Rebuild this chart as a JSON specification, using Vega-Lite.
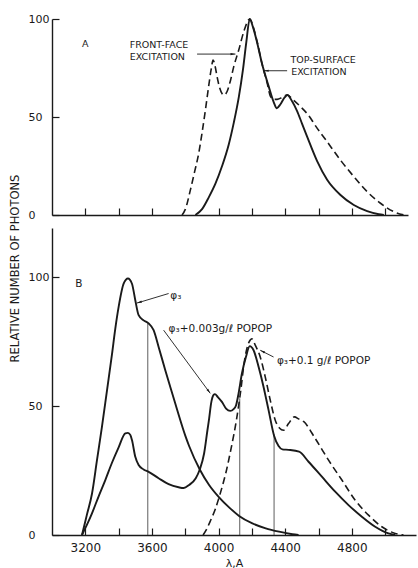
{
  "$schema": "https://vega.github.io/schema/vega-lite/v6.json",
  "background": "white",
  "padding": {"left": 8, "top": 13, "right": 2, "bottom": 0},
  "bounds": "flush",
  "spacing": 13,
  "config": {
    "view": {"stroke": null},
    "font": "DejaVu Sans",
    "axis": {
      "grid": false,
      "domainColor": "#1a1a1a",
      "domainWidth": 1.4,
      "tickColor": "#1a1a1a",
      "tickWidth": 1.2,
      "tickSize": -7,
      "labelColor": "#1a1a1a",
      "labelFont": "DejaVu Sans",
      "labelFontSize": 11,
      "titleColor": "#1a1a1a",
      "titleFont": "DejaVu Sans",
      "titleFontWeight": "normal"
    },
    "text": {"font": "DejaVu Sans", "fontSize": 9.5, "color": "#1a1a1a", "align": "left", "baseline": "alphabetic"}
  },
  "datasets": {
    "curvesA": [
      {"s": "top", "lam": 3860, "val": 0}, {"s": "top", "lam": 3900, "val": 3}, {"s": "top", "lam": 3940, "val": 9},
      {"s": "top", "lam": 3980, "val": 16}, {"s": "top", "lam": 4020, "val": 25}, {"s": "top", "lam": 4060, "val": 36},
      {"s": "top", "lam": 4090, "val": 47}, {"s": "top", "lam": 4120, "val": 60}, {"s": "top", "lam": 4145, "val": 74},
      {"s": "top", "lam": 4165, "val": 88}, {"s": "top", "lam": 4186, "val": 100}, {"s": "top", "lam": 4205, "val": 96},
      {"s": "top", "lam": 4230, "val": 88}, {"s": "top", "lam": 4260, "val": 77}, {"s": "top", "lam": 4300, "val": 65.5},
      {"s": "top", "lam": 4330, "val": 57.5}, {"s": "top", "lam": 4348, "val": 54.5}, {"s": "top", "lam": 4370, "val": 56.5},
      {"s": "top", "lam": 4395, "val": 60}, {"s": "top", "lam": 4412, "val": 61.2}, {"s": "top", "lam": 4440, "val": 58},
      {"s": "top", "lam": 4470, "val": 53}, {"s": "top", "lam": 4500, "val": 46.5}, {"s": "top", "lam": 4530, "val": 40},
      {"s": "top", "lam": 4590, "val": 27.5}, {"s": "top", "lam": 4650, "val": 18}, {"s": "top", "lam": 4730, "val": 10.2},
      {"s": "top", "lam": 4810, "val": 5.1}, {"s": "top", "lam": 4890, "val": 2}, {"s": "top", "lam": 4960, "val": 0.4},
      {"s": "top", "lam": 4990, "val": 0},
      {"s": "front", "lam": 3780, "val": 0}, {"s": "front", "lam": 3800, "val": 3}, {"s": "front", "lam": 3830, "val": 12.8},
      {"s": "front", "lam": 3855, "val": 22}, {"s": "front", "lam": 3880, "val": 31.5}, {"s": "front", "lam": 3900, "val": 42},
      {"s": "front", "lam": 3920, "val": 53.6}, {"s": "front", "lam": 3940, "val": 66}, {"s": "front", "lam": 3955, "val": 74.5},
      {"s": "front", "lam": 3966, "val": 79}, {"s": "front", "lam": 3978, "val": 76}, {"s": "front", "lam": 3990, "val": 70.6},
      {"s": "front", "lam": 4005, "val": 65}, {"s": "front", "lam": 4030, "val": 61.2}, {"s": "front", "lam": 4050, "val": 63},
      {"s": "front", "lam": 4070, "val": 68.5}, {"s": "front", "lam": 4090, "val": 75.7}, {"s": "front", "lam": 4120, "val": 84.2},
      {"s": "front", "lam": 4150, "val": 93.5}, {"s": "front", "lam": 4186, "val": 100}, {"s": "front", "lam": 4210, "val": 95},
      {"s": "front", "lam": 4230, "val": 88.5}, {"s": "front", "lam": 4260, "val": 77}, {"s": "front", "lam": 4290, "val": 67.5},
      {"s": "front", "lam": 4310, "val": 60.5}, {"s": "front", "lam": 4330, "val": 59}, {"s": "front", "lam": 4350, "val": 59},
      {"s": "front", "lam": 4380, "val": 60}, {"s": "front", "lam": 4410, "val": 61.2}, {"s": "front", "lam": 4450, "val": 58.5},
      {"s": "front", "lam": 4490, "val": 55.3}, {"s": "front", "lam": 4550, "val": 49.5}, {"s": "front", "lam": 4570, "val": 46.8},
      {"s": "front", "lam": 4650, "val": 37.4}, {"s": "front", "lam": 4730, "val": 28}, {"s": "front", "lam": 4810, "val": 19.6},
      {"s": "front", "lam": 4890, "val": 11.9}, {"s": "front", "lam": 4970, "val": 6}, {"s": "front", "lam": 5050, "val": 1.7},
      {"s": "front", "lam": 5110, "val": 0}
    ],
    "curvesB": [
      {"s": "phi3", "lam": 3180, "val": 0}, {"s": "phi3", "lam": 3210, "val": 8}, {"s": "phi3", "lam": 3240, "val": 16},
      {"s": "phi3", "lam": 3270, "val": 29}, {"s": "phi3", "lam": 3300, "val": 42}, {"s": "phi3", "lam": 3330, "val": 56},
      {"s": "phi3", "lam": 3360, "val": 70}, {"s": "phi3", "lam": 3380, "val": 80}, {"s": "phi3", "lam": 3400, "val": 88.4},
      {"s": "phi3", "lam": 3430, "val": 97.4}, {"s": "phi3", "lam": 3456, "val": 99.4}, {"s": "phi3", "lam": 3480, "val": 97.4},
      {"s": "phi3", "lam": 3500, "val": 91}, {"s": "phi3", "lam": 3520, "val": 85.2}, {"s": "phi3", "lam": 3550, "val": 83.2},
      {"s": "phi3", "lam": 3580, "val": 82}, {"s": "phi3", "lam": 3610, "val": 79.4}, {"s": "phi3", "lam": 3640, "val": 72.9},
      {"s": "phi3", "lam": 3680, "val": 63.9}, {"s": "phi3", "lam": 3740, "val": 51}, {"s": "phi3", "lam": 3763, "val": 46},
      {"s": "phi3", "lam": 3800, "val": 38.5}, {"s": "phi3", "lam": 3823, "val": 34.5}, {"s": "phi3", "lam": 3887, "val": 25.4},
      {"s": "phi3", "lam": 3943, "val": 19.4}, {"s": "phi3", "lam": 4003, "val": 14.6}, {"s": "phi3", "lam": 4063, "val": 10.7},
      {"s": "phi3", "lam": 4123, "val": 7.4}, {"s": "phi3", "lam": 4203, "val": 4.5}, {"s": "phi3", "lam": 4283, "val": 2.6},
      {"s": "phi3", "lam": 4363, "val": 1.3}, {"s": "phi3", "lam": 4443, "val": 0.3}, {"s": "phi3", "lam": 4480, "val": 0},
      {"s": "p003", "lam": 3180, "val": 0}, {"s": "p003", "lam": 3210, "val": 4}, {"s": "p003", "lam": 3240, "val": 8.4},
      {"s": "p003", "lam": 3280, "val": 15}, {"s": "p003", "lam": 3320, "val": 21.3}, {"s": "p003", "lam": 3360, "val": 28},
      {"s": "p003", "lam": 3400, "val": 34}, {"s": "p003", "lam": 3440, "val": 39.4}, {"s": "p003", "lam": 3456, "val": 39.6},
      {"s": "p003", "lam": 3470, "val": 38.8}, {"s": "p003", "lam": 3480, "val": 36.8}, {"s": "p003", "lam": 3500, "val": 30.3},
      {"s": "p003", "lam": 3520, "val": 27.1}, {"s": "p003", "lam": 3550, "val": 25.4}, {"s": "p003", "lam": 3580, "val": 24.5},
      {"s": "p003", "lam": 3640, "val": 22}, {"s": "p003", "lam": 3700, "val": 19.7}, {"s": "p003", "lam": 3760, "val": 18.5},
      {"s": "p003", "lam": 3790, "val": 18.2}, {"s": "p003", "lam": 3823, "val": 19.4}, {"s": "p003", "lam": 3863, "val": 22},
      {"s": "p003", "lam": 3887, "val": 25.4}, {"s": "p003", "lam": 3913, "val": 31.6}, {"s": "p003", "lam": 3933, "val": 40.6},
      {"s": "p003", "lam": 3943, "val": 45}, {"s": "p003", "lam": 3955, "val": 51}, {"s": "p003", "lam": 3970, "val": 54.3},
      {"s": "p003", "lam": 3978, "val": 54.6}, {"s": "p003", "lam": 3995, "val": 53.5}, {"s": "p003", "lam": 4020, "val": 51.6},
      {"s": "p003", "lam": 4045, "val": 49}, {"s": "p003", "lam": 4070, "val": 48.1}, {"s": "p003", "lam": 4090, "val": 48.8},
      {"s": "p003", "lam": 4105, "val": 50.3}, {"s": "p003", "lam": 4120, "val": 54.9}, {"s": "p003", "lam": 4140, "val": 62.6},
      {"s": "p003", "lam": 4164, "val": 69}, {"s": "p003", "lam": 4187, "val": 73.2}, {"s": "p003", "lam": 4210, "val": 71.6},
      {"s": "p003", "lam": 4240, "val": 65.2}, {"s": "p003", "lam": 4270, "val": 57.4}, {"s": "p003", "lam": 4300, "val": 48.4},
      {"s": "p003", "lam": 4333, "val": 38.5}, {"s": "p003", "lam": 4360, "val": 34.5}, {"s": "p003", "lam": 4383, "val": 33.2},
      {"s": "p003", "lam": 4420, "val": 33}, {"s": "p003", "lam": 4483, "val": 32.3}, {"s": "p003", "lam": 4540, "val": 28.4},
      {"s": "p003", "lam": 4620, "val": 22.6}, {"s": "p003", "lam": 4700, "val": 16.8}, {"s": "p003", "lam": 4780, "val": 11.6},
      {"s": "p003", "lam": 4860, "val": 7.1}, {"s": "p003", "lam": 4940, "val": 3.2}, {"s": "p003", "lam": 5020, "val": 0.6},
      {"s": "p003", "lam": 5060, "val": 0},
      {"s": "p01", "lam": 3907, "val": 0}, {"s": "p01", "lam": 3930, "val": 2.5}, {"s": "p01", "lam": 3953, "val": 5.8},
      {"s": "p01", "lam": 3980, "val": 10}, {"s": "p01", "lam": 4003, "val": 14.6}, {"s": "p01", "lam": 4025, "val": 19.5},
      {"s": "p01", "lam": 4043, "val": 23.9}, {"s": "p01", "lam": 4073, "val": 32.9}, {"s": "p01", "lam": 4093, "val": 39.4},
      {"s": "p01", "lam": 4107, "val": 44.5}, {"s": "p01", "lam": 4120, "val": 50}, {"s": "p01", "lam": 4135, "val": 57},
      {"s": "p01", "lam": 4150, "val": 65.2}, {"s": "p01", "lam": 4170, "val": 72.3}, {"s": "p01", "lam": 4190, "val": 75.6},
      {"s": "p01", "lam": 4199, "val": 76.1}, {"s": "p01", "lam": 4220, "val": 73.6}, {"s": "p01", "lam": 4250, "val": 69},
      {"s": "p01", "lam": 4280, "val": 61.3}, {"s": "p01", "lam": 4310, "val": 52.3}, {"s": "p01", "lam": 4340, "val": 44.5},
      {"s": "p01", "lam": 4365, "val": 41.5}, {"s": "p01", "lam": 4390, "val": 40.6}, {"s": "p01", "lam": 4420, "val": 43.2},
      {"s": "p01", "lam": 4456, "val": 45.8}, {"s": "p01", "lam": 4480, "val": 45}, {"s": "p01", "lam": 4510, "val": 44},
      {"s": "p01", "lam": 4580, "val": 37.4}, {"s": "p01", "lam": 4660, "val": 29}, {"s": "p01", "lam": 4740, "val": 21.3},
      {"s": "p01", "lam": 4820, "val": 13.5}, {"s": "p01", "lam": 4900, "val": 7.7}, {"s": "p01", "lam": 4980, "val": 3.2},
      {"s": "p01", "lam": 5060, "val": 0.6}, {"s": "p01", "lam": 5110, "val": 0}
    ],
    "vlinesB": [
      {"lam": 3575, "val": 0, "top": 82},
      {"lam": 4127, "val": 0, "top": 53},
      {"lam": 4333, "val": 0, "top": 39}
    ],
    "arrowsA": [
      {"id": "ff", "lam": 3870, "val": 82.1, "lam2": 4100, "val2": 82.1},
      {"id": "ts", "lam": 4410, "val": 73.6, "lam2": 4270, "val2": 73.6}
    ],
    "arrowsB": [
      {"id": "phi", "lam": 3700, "val": 93.6, "lam2": 3510, "val2": 89.9},
      {"id": "p003", "lam": 3670, "val": 79.4, "lam2": 3950, "val2": 54.9},
      {"id": "p01", "lam": 4330, "val": 69, "lam2": 4250, "val2": 71.6}
    ],
    "textA": [
      {"lam": 3180, "val": 85.6, "t": "A"},
      {"lam": 3466, "val": 85, "t": "FRONT-FACE"},
      {"lam": 3466, "val": 79.1, "t": "EXCITATION"},
      {"lam": 4430, "val": 77.3, "t": "TOP-SURFACE"},
      {"lam": 4435, "val": 71.2, "t": "EXCITATION"}
    ],
    "textB": [
      {"lam": 3140, "val": 96.1, "t": "B"}
    ],
    "phiB": [
      {"lam": 3710, "val": 91.5, "t": "φ₃"},
      {"lam": 3700, "val": 78.7, "t": "φ₃+0.003g/ℓ POPOP"},
      {"lam": 4350, "val": 66.4, "t": "φ₃+0.1 g/ℓ  POPOP"}
    ]
  },
  "vconcat": [
    {
      "width": 356,
      "height": 196,
      "encoding": {
        "x": {"field": "lam", "type": "quantitative", "scale": {"domain": [3000, 5135], "nice": false, "zero": false},
              "axis": {"title": null, "values": [3200, 3400, 3600, 4000, 4200, 4400, 4600, 4800, 5000], "labels": false}},
        "y": {"field": "val", "type": "quantitative", "scale": {"domain": [0, 100], "nice": false},
              "axis": {"title": null, "values": [0, 50, 100], "labelAlign": "left", "labelPadding": 31}}
      },
      "layer": [
        {
          "data": {"name": "curvesA"},
          "transform": [{"filter": "datum.s === 'top'"}],
          "mark": {"type": "line", "interpolate": "monotone", "color": "#1a1a1a", "strokeWidth": 1.9}
        },
        {
          "data": {"name": "curvesA"},
          "transform": [{"filter": "datum.s === 'front'"}],
          "mark": {"type": "line", "interpolate": "monotone", "color": "#1a1a1a", "strokeWidth": 1.6, "strokeDash": [7, 4]}
        },
        {
          "data": {"name": "arrowsA"},
          "mark": {"type": "rule", "color": "#1a1a1a", "strokeWidth": 0.9},
          "encoding": {"x2": {"field": "lam2"}, "y2": {"field": "val2"}}
        },
        {
          "data": {"name": "arrowsA"},
          "transform": [{"filter": "datum.id === 'ff'"}],
          "mark": {"type": "point", "shape": "M0,0L0.5,2.2L-0.5,2.2Z", "angle": 90, "filled": true, "color": "#1a1a1a", "size": 20, "opacity": 1},
          "encoding": {"x": {"field": "lam2", "type": "quantitative"}, "y": {"field": "val2", "type": "quantitative"}}
        },
        {
          "data": {"name": "arrowsA"},
          "transform": [{"filter": "datum.id === 'ts'"}],
          "mark": {"type": "point", "shape": "M0,0L0.5,2.2L-0.5,2.2Z", "angle": 270, "filled": true, "color": "#1a1a1a", "size": 20, "opacity": 1},
          "encoding": {"x": {"field": "lam2", "type": "quantitative"}, "y": {"field": "val2", "type": "quantitative"}}
        },
        {
          "data": {"name": "textA"},
          "mark": {"type": "text"},
          "encoding": {"text": {"field": "t"}}
        }
      ]
    },
    {
      "width": 364,
      "height": 307,
      "encoding": {
        "x": {"field": "lam", "type": "quantitative", "scale": {"domain": [3000, 5185], "nice": false, "zero": false},
              "axis": {"title": "λ,A", "titleFontSize": 11, "titlePadding": 4,
                       "values": [3200, 3400, 3600, 3800, 4000, 4200, 4400, 4600, 4800, 5000],
                       "format": "d", "labelFontSize": 12, "labelPadding": 14,
                       "labelExpr": "datum.value % 400 === 0 && datum.value <= 4800 ? datum.label : ''"}},
        "y": {"field": "val", "type": "quantitative", "scale": {"domain": [0, 119], "nice": false},
              "axis": {"title": "RELATIVE NUMBER OF PHOTONS", "titleFontSize": 11.5, "titleX": -37, "titleY": 40,
                       "titleAlign": "center", "titleBaseline": "middle", "titleAngle": -90,
                       "values": [0, 50, 100], "labelAlign": "left", "labelPadding": 31}}
      },
      "layer": [
        {
          "data": {"name": "vlinesB"},
          "mark": {"type": "rule", "color": "#333", "strokeWidth": 0.8},
          "encoding": {"y2": {"field": "top"}}
        },
        {
          "data": {"name": "curvesB"},
          "transform": [{"filter": "datum.s !== 'p01'"}],
          "mark": {"type": "line", "interpolate": "monotone", "color": "#1a1a1a", "strokeWidth": 1.9},
          "encoding": {"detail": {"field": "s"}}
        },
        {
          "data": {"name": "curvesB"},
          "transform": [{"filter": "datum.s === 'p01'"}],
          "mark": {"type": "line", "interpolate": "monotone", "color": "#1a1a1a", "strokeWidth": 1.6, "strokeDash": [7, 4]}
        },
        {
          "data": {"name": "arrowsB"},
          "mark": {"type": "rule", "color": "#1a1a1a", "strokeWidth": 0.9},
          "encoding": {"x2": {"field": "lam2"}, "y2": {"field": "val2"}}
        },
        {
          "data": {"name": "arrowsB"},
          "transform": [{"filter": "datum.id === 'phi'"}],
          "mark": {"type": "point", "shape": "M0,0L0.5,2.2L-0.5,2.2Z", "angle": 253.5, "filled": true, "color": "#1a1a1a", "size": 20, "opacity": 1},
          "encoding": {"x": {"field": "lam2", "type": "quantitative"}, "y": {"field": "val2", "type": "quantitative"}}
        },
        {
          "data": {"name": "arrowsB"},
          "transform": [{"filter": "datum.id === 'p003'"}],
          "mark": {"type": "point", "shape": "M0,0L0.5,2.2L-0.5,2.2Z", "angle": 143.6, "filled": true, "color": "#1a1a1a", "size": 20, "opacity": 1},
          "encoding": {"x": {"field": "lam2", "type": "quantitative"}, "y": {"field": "val2", "type": "quantitative"}}
        },
        {
          "data": {"name": "arrowsB"},
          "transform": [{"filter": "datum.id === 'p01'"}],
          "mark": {"type": "point", "shape": "M0,0L0.5,2.2L-0.5,2.2Z", "angle": 296.7, "filled": true, "color": "#1a1a1a", "size": 20, "opacity": 1},
          "encoding": {"x": {"field": "lam2", "type": "quantitative"}, "y": {"field": "val2", "type": "quantitative"}}
        },
        {
          "data": {"name": "textB"},
          "mark": {"type": "text", "fontSize": 10.5},
          "encoding": {"text": {"field": "t"}}
        },
        {
          "data": {"name": "phiB"},
          "mark": {"type": "text", "font": "DejaVu Sans", "fontSize": 10.5},
          "encoding": {"text": {"field": "t"}}
        }
      ]
    }
  ]
}
